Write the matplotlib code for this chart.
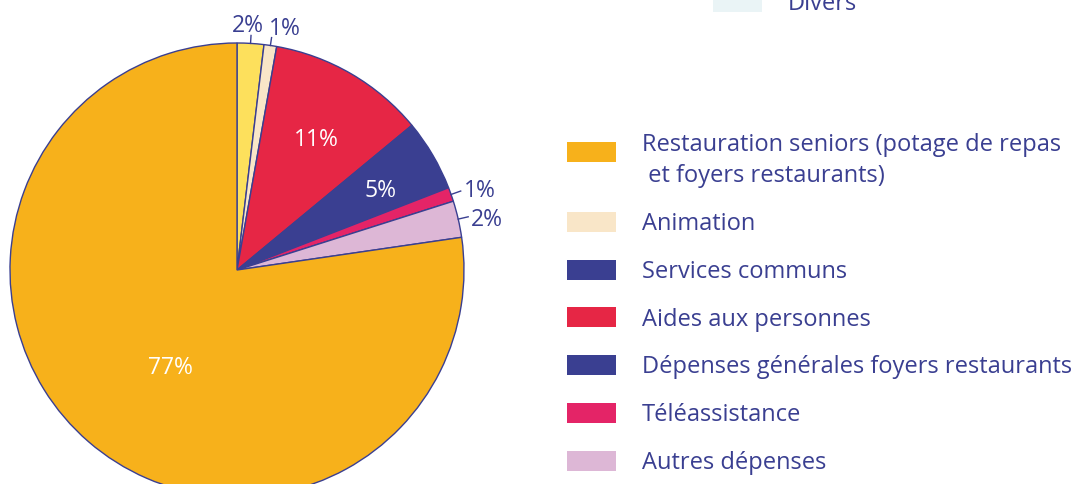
import numpy as np
import matplotlib.pyplot as plt
from matplotlib.patches import Patch

plt.rcParams['font.family'] = ['Open Sans', 'DejaVu Sans']

# pie slices, clockwise from 12 o'clock
slice_values = [1.9, 0.9, 11.2, 5.1, 1.0, 2.6, 77.3]
slice_texts = ['2%', '1%', '11%', '5%', '1%', '2%', '77%']
slice_colors = ['#FDE05C', '#F9E6C8', '#E62645', '#3A3F91', '#E42467', '#DDB7D6', '#F7B11B']

# legend entries (as visible in the picture)
legend_labels = ['Restauration seniors (potage de repas\n et foyers restaurants)',
                 'Animation', 'Services communs', 'Aides aux personnes',
                 'Dépenses générales foyers restaurants', 'Téléassistance',
                 'Autres dépenses']
legend_colors = ['#F7B11B', '#F9E6C8', '#3A3F91', '#E62645', '#3A3F91', '#E42467', '#DDB7D6']
extra_label = 'Divers'
extra_color = '#EAF4F6'

navy = '#3A3F91'

fig = plt.figure(figsize=(10.8, 4.84), dpi=100)
ax = fig.add_axes([10 / 1080, -13 / 484, 454 / 1080, 454 / 484])

wedges, _ = ax.pie(slice_values, colors=slice_colors, startangle=90, counterclock=False,
                   wedgeprops=dict(edgecolor=navy, linewidth=1.0))
ax.set_xlim(-1, 1)
ax.set_ylim(-1, 1)
ax.set_aspect('equal')

# inside labels (white) and outside labels (navy, short leader line)
inside = {2: (0.69, 0, -5), 3: (0.73, 1, -5), 6: (0.50, 8, -12)}
outside = {0: ('center', -3, -3), 1: ('left', -3, -3), 4: ('left', 3, 0), 5: ('left', 3, -3)}
for i, w in enumerate(wedges):
    a = np.deg2rad((w.theta1 + w.theta2) / 2)
    c, s = np.cos(a), np.sin(a)
    if i in inside:
        r, dx, dy = inside[i]
        ax.annotate(slice_texts[i], (r * c, r * s), xytext=(dx, dy),
                    textcoords='offset pixels', color='white', fontsize=16.5,
                    ha='center', va='center')
    else:
        ha, dx, dy = outside[i]
        r2 = 1.035 if i < 2 else 1.045
        ax.plot([c, r2 * c], [s, r2 * s], color=navy, lw=1.0, clip_on=False)
        va = 'bottom' if i < 2 else 'center'
        ax.annotate(slice_texts[i], (r2 * c, r2 * s), xytext=(dx, dy),
                    textcoords='offset pixels', ha=ha, va=va,
                    color=navy, fontsize=16.5, annotation_clip=False)

handles = [Patch(facecolor=col, edgecolor='none') for col in legend_colors]
leg = fig.legend(handles, legend_labels, loc='upper left',
                 bbox_to_anchor=(567 / 1080, 1 - 133 / 484), fontsize=17,
                 frameon=False, handlelength=2.08, handleheight=0.93,
                 handletextpad=1.1, labelspacing=1.0, borderpad=0,
                 borderaxespad=0, labelcolor=navy)
leg.get_texts()[0].set_linespacing(1.4)
# first swatch sits level with the first line of its two-line label
first = leg.legend_handles[0]
first.set_y(first.get_y() + 7)

leg2 = fig.legend([Patch(facecolor=extra_color, edgecolor='none')], [extra_label],
                  loc='center left', bbox_to_anchor=(713 / 1080, 1 - 4 / 484),
                  fontsize=17, frameon=False, handlelength=2.08, handleheight=0.93,
                  handletextpad=1.1, borderpad=0, borderaxespad=0, labelcolor=navy)

fig.savefig('out.png', dpi=100)
